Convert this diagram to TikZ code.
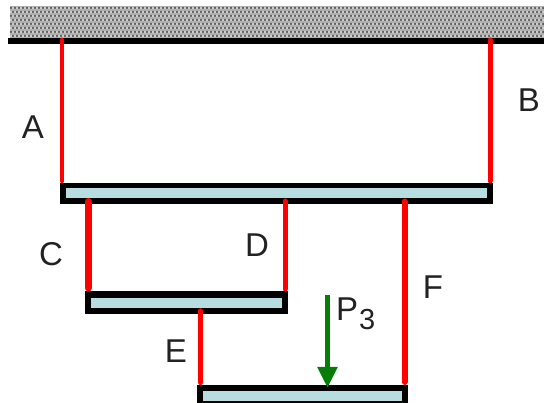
\documentclass[tikz,border=0pt]{standalone}
\usepackage{fontspec}
\setmainfont{Liberation Sans}
\usetikzlibrary{arrows.meta}
\definecolor{beamfill}{HTML}{B7DDE0}
\definecolor{rodred}{HTML}{FF0000}
\definecolor{loadgreen}{HTML}{067D06}
\definecolor{textgray}{HTML}{222222}
\tikzset{
  beam/.style={draw=black,fill=beamfill,line width=5.5pt,rectangle,inner sep=0pt,outer sep=0pt,anchor=north west,line join=miter},
  rod/.style={draw=rodred,line cap=round},
  lbl/.style={font=\fontsize{33}{33}\selectfont,text=textgray,inner sep=0pt},
  load/.style={draw=loadgreen,line width=5.5pt,-{Triangle[length=21pt,width=19pt,fill=loadgreen]}},
}
\begin{document}
\begin{tikzpicture}[x=1pt,y=-1pt]
\useasboundingbox (0,0) rectangle (544,403);
% ceiling hatch
\fill[gray!60] (10,6) rectangle (544,38);
\foreach \r in {0,...,7}{
  \pgfmathsetmacro{\off}{mod(\r,2)*2}
  \foreach \c in {0,...,133}{
    \fill[gray!70!black] ({11+\c*4+\off},{8+\r*4}) circle (1.25);
    \fill[white!85!gray] ({13+\c*4-\off},{8+\r*4}) circle (0.8);
  }
}
\node[fill=black,inner sep=0pt,outer sep=0pt,minimum width=536pt,minimum height=5.5pt,anchor=west] (wall) at (8,41) {};
\coordinate (aT) at (62,40); \coordinate (aB) at (62,181);
\coordinate (bT) at (490,40); \coordinate (bB) at (490,181);
\coordinate (cT) at (88,201.5); \coordinate (cB) at (88,288);
\coordinate (dT) at (285,201); \coordinate (dB) at (285,289);
\coordinate (eT) at (200.5,311); \coordinate (eB) at (200.5,382.5);
\coordinate (fT) at (404.5,201.5); \coordinate (fB) at (404.5,382);
\coordinate (pT) at (327.5,295); \coordinate (pB) at (327.5,388);
% beams
\node[beam,minimum width=427pt,minimum height=15.5pt] (beam1) at (62.75,185.75) {};
\node[beam,minimum width=197pt,minimum height=16.5pt,line width=6.5pt] (beam2) at (88,294.5) {};
\node[beam,minimum width=205pt,minimum height=16pt] (beam3) at (200,388) {};
\draw[rod,line width=4.5pt] (aT) -- (aB);
\draw[rod,line width=5pt] (bT) -- (bB);
\draw[rod,line width=7pt] (cT) -- (cB);
\draw[rod,line width=5pt] (dT) -- (dB);
\draw[rod,line width=5.5pt] (eT) -- (eB);
\draw[rod,line width=6pt] (fT) -- (fB);
\draw[load] (pT) -- (pB);
% labels
\node[lbl] (la) at (33,127) {A};
\node[lbl] (lb) at (529,100) {B};
\node[lbl] (lc) at (51,254) {C};
\node[lbl] (ld) at (257,245) {D};
\node[lbl] (le) at (176,351) {E};
\node[lbl] (lf) at (433,287) {F};
\node[lbl,anchor=base west] (lp) at (336,321) {P\kern1pt\raisebox{-9pt}{\fontsize{29}{29}\selectfont 3}};
\end{tikzpicture}
\end{document}
